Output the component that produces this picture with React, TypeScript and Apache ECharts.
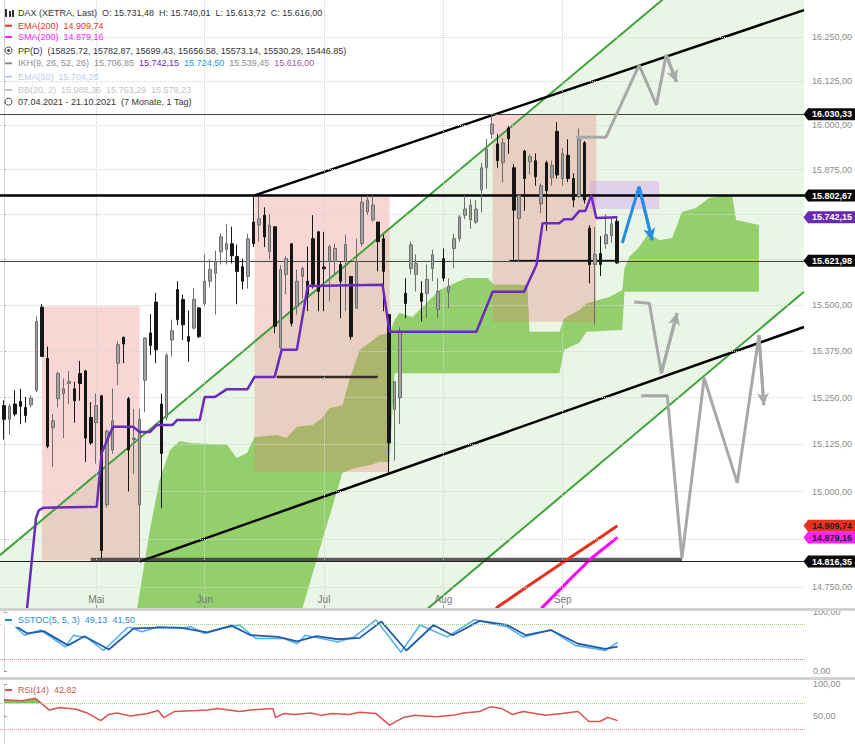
import React, { useEffect, useRef } from "react";
import * as echarts from "echarts";

// ---------- axis ranges ----------
const X_MIN = -0.737;
const X_MAX = 147.5;
const PRICE_MIN = 14695.6;
const PRICE_MAX = 16356.2;

const monthTicks = [17, 37, 59, 81, 103];
const monthNames = ["Mai", "Jun", "Jul", "Aug", "Sep"];
const priceTicks = [14750, 14875, 15000, 15125, 15250, 15375, 15500, 15625, 15750, 15875, 16000, 16125, 16250];
const priceLabels = [14750, 15000, 15125, 15250, 15375, 15500, 15875, 16000, 16125, 16250];
const sstocTicks = [0, 100];
const rsiTicks = [50, 100];

// ---------- candles (trading-day index 0..113) ----------
const candleOpen = [
  15229, 15192, 15233, 15240, 15224, 15231, 15270, 15495, 15356, 15170,
  15247, 15261, 15288, 15274, 15315, 15322, 15197, 15183, 15255, 14965,
  15110, 15343, 15413, 15247, 15138, 14965, 15297, 15425, 15509, 15233,
  15197, 15406, 15543, 15516, 15415, 15438, 15493, 15505, 15566, 15587,
  15647, 15653, 15669, 15634, 15606, 15579, 15729, 15721, 15748, 15647,
  15716, 15384, 15585, 15669, 15497, 15579, 15566, 15683, 15702, 15605,
  15620, 15620, 15612, 15620, 15579, 15492, 15669, 15757, 15735, 15729,
  15683, 15475, 15219, 15250, 15533, 15601, 15585, 15533, 15533, 15601,
  15489, 15628, 15538, 15656, 15683, 15748, 15735, 15729, 15819, 15880,
  15975, 15947, 15894, 15992, 15880, 15739, 15927, 15897, 15900, 15780,
  15894, 15853, 15982, 15850, 15915, 15850, 15800, 15950, 15712, 15612,
  15642, 15669, 15691, 15731,
];
const candleHigh = [
  15243, 15233, 15270, 15274, 15252, 15256, 15470, 15503, 15388, 15206,
  15320, 15302, 15322, 15293, 15349, 15325, 15238, 15261, 15258, 15165,
  15275, 15402, 15415, 15252, 15220, 15220, 15413, 15476, 15534, 15261,
  15370, 15461, 15566, 15529, 15486, 15547, 15495, 15640, 15626, 15650,
  15697, 15724, 15716, 15667, 15628, 15697, 15800, 15798, 15770, 15751,
  15718, 15610, 15634, 15670, 15598, 15606, 15661, 15748, 15704, 15702,
  15667, 15669, 15620, 15694, 15580, 15683, 15798, 15803, 15803, 15729,
  15694, 15476, 15293, 15440, 15574, 15675, 15640, 15566, 15612, 15653,
  15574, 15656, 15574, 15697, 15748, 15803, 15792, 15790, 15894, 15961,
  16030, 15975, 15964, 15997, 15890, 15808, 15930, 15918, 15920, 15836,
  15900, 15900, 16008, 15935, 15960, 15865, 15990, 15955, 15720, 15715,
  15690, 15751, 15740, 15740,
];
const candleLow = [
  15138, 15151, 15200, 15179, 15183, 15224, 15265, 15361, 15115, 15065,
  15224, 15142, 15233, 15183, 15242, 15079, 15124, 15074, 14825, 14958,
  15100, 15284, 15343, 15000, 15047, 14816, 15211, 15365, 15343, 14956,
  15190, 15361, 15447, 15406, 15347, 15434, 15411, 15497, 15549, 15475,
  15612, 15612, 15615, 15503, 15544, 15546, 15660, 15675, 15660, 15626,
  15424, 15380, 15530, 15443, 15475, 15519, 15484, 15546, 15484, 15484,
  15511, 15585, 15465, 15484, 15407, 15492, 15661, 15749, 15730, 15593,
  15484, 15047, 15082, 15180, 15465, 15585, 15538, 15456, 15465, 15566,
  15465, 15566, 15492, 15601, 15675, 15737, 15710, 15724, 15755, 15822,
  15961, 15880, 15839, 15919, 15625, 15620, 15760, 15862, 15830, 15754,
  15705, 15830, 15850, 15830, 15840, 15770, 15795, 15780, 15560, 15448,
  15580, 15655, 15672, 15614,
];
const candleClose = [
  15192, 15227, 15206, 15227, 15202, 15249, 15456, 15361, 15120, 15188,
  15315, 15274, 15294, 15242, 15288, 15142, 15129, 15229, 14845, 15160,
  15188, 15393, 15395, 15110, 15142, 15192, 15411, 15391, 15379, 15101,
  15365, 15431, 15461, 15447, 15402, 15516, 15415, 15566, 15598, 15620,
  15688, 15669, 15636, 15593, 15566, 15683, 15669, 15738, 15688, 15721,
  15443, 15598, 15628, 15451, 15566, 15601, 15530, 15557, 15538, 15600,
  15661, 15656, 15566, 15667, 15415, 15620, 15784, 15790, 15776, 15675,
  15593, 15129, 15293, 15430, 15505, 15666, 15615, 15511, 15571, 15639,
  15538, 15574, 15552, 15683, 15743, 15765, 15776, 15765, 15880, 15933,
  16003, 15900, 15950, 15961, 15762, 15803, 15850, 15911, 15855, 15830,
  15816, 15886, 15860, 15920, 15850, 15790, 15960, 15790, 15612, 15640,
  15612, 15694, 15724, 15616,
];

// ---------- Ichimoku ----------
const kijunLine = [
  [3.9, 14650], [4.4, 14716], [5.9, 14930], [6.4, 14950], [7.2, 14957], [17.1, 14960], [18, 15102],
  [20.1, 15172], [23.8, 15172], [25, 15158], [26.9, 15158], [28.2, 15177], [31.1, 15177], [31.9, 15190],
  [36.1, 15190], [37, 15252], [38.9, 15252], [41.1, 15273], [44.9, 15273], [46.2, 15306], [49.9, 15306],
  [51.2, 15379], [54, 15379], [56, 15553], [69.8, 15556], [71.1, 15428], [87.1, 15428], [90.1, 15537],
  [95.9, 15537], [98.2, 15611], [99.3, 15726], [102.4, 15726], [103.3, 15737], [104.8, 15737],
  [106.1, 15760], [107.2, 15760], [108.3, 15803], [109.2, 15740], [113.1, 15742],
];
const cloudUpper = [
  [24.5, 14690], [26.9, 14899], [28.7, 15031], [30.6, 15110], [32.4, 15134], [34.3, 15129], [37.9, 15126],
  [41.1, 15124], [42.9, 15089], [44.8, 15102], [46.2, 15145], [50.3, 15150], [52.1, 15142], [54, 15172],
  [56.9, 15177], [58.7, 15196], [60, 15222], [62.4, 15230], [63.7, 15298], [65.6, 15379], [67.4, 15398],
  [69.2, 15419], [71.1, 15425], [72, 15460], [72.9, 15479], [75.3, 15468], [80.3, 15542], [85.3, 15575],
  [89.1, 15575], [90.4, 15556], [96.5, 15556], [96.9, 15428], [102.4, 15428], [103.3, 15465], [106.1, 15487],
  [107.4, 15506], [111.6, 15523], [114, 15542], [114.4, 15600], [115.3, 15633], [117.1, 15660], [118.9, 15699],
  [120.8, 15679], [123.2, 15685], [125, 15757], [127.6, 15768], [130, 15796], [132.4, 15802], [134.3, 15799],
  [135, 15735], [139.2, 15721],
];
const cloudLower = [
  [24.5, 14600], [54.5, 14600], [55.1, 14698], [58.7, 14872], [62.4, 15049], [63.7, 15057], [65.6, 15065],
  [67.4, 15070], [69.2, 15078], [71.1, 15078], [72, 15316], [102.4, 15316], [103.3, 15379], [106.1, 15398],
  [107.4, 15428], [114, 15433], [114.4, 15537], [139.2, 15537],
];

// ---------- moving averages ----------
const ema200Line = [[90, 14680], [91, 14698], [96.9, 14755], [104.2, 14825], [109.8, 14878], [113.1, 14909.74]];
const sma200Line = [[98.5, 14680], [99.3, 14698], [104.2, 14768], [108.3, 14825], [113.1, 14879.16]];

// ---------- trend channels ----------
const greenUpperLine = [[-0.737, 14833], [130, 16470]];
const greenLowerLine = [[75, 14657], [147.5, 15537]];
const blackUpperLine = [[46.2, 15803], [147.5, 16327]];
const blackLowerLine = [[25, 14816], [147.5, 15441]];

const supportBand = [[16, 14821], [125, 14821]];
const kijunFlat = [[50.3, 15306], [68.9, 15306]];
const pivotBand = [[93.2, 15622], [113.1, 15622]];

// ---------- projections ----------
const projectionTop = [[105.5, 15966], [111, 15966], [117.1, 16170], [120.3, 16057], [122.1, 16199], [124, 16122]];
const projectionMid = [[116.2, 15509], [119, 15506], [121.2, 15316], [124.1, 15479]];
const projectionLow = [[117.5, 15255], [122.3, 15255], [125, 14825], [129.1, 15303], [135.2, 15023], [139.2, 15419], [140.1, 15230]];
const blueArrow = [[114, 15671], [117.1, 15827], [119.5, 15679]];

// ---------- zones [x1, x2, high, low] ----------
const pinkZones = [
  [7, 25, 15497, 14820],
  [46.2, 71.1, 15799, 15052],
  [90.1, 109.2, 16030, 15455],
];
const purpleZone = [108, 120.8, 15843, 15765];

// ---------- labelled levels ----------
const levelValues = [16030.33, 15802.67, 15621.98, 14816.35];
const tagValues = [15742.15, 14909.74, 14879.16];

// ---------- oscillators ----------
const sstocK = [
  [0, 92.5], [3.8, 60.7], [6.8, 69.4], [11.3, 40.5], [12.8, 60.7], [15.3, 56], [18.3, 34.7], [22.9, 75.1],
  [25.4, 66.5], [28.4, 75.1], [32.4, 72.3], [34.4, 75.1], [36.9, 63.6], [40.4, 72.3], [43.4, 78], [46.4, 54.9],
  [51.5, 54.9], [54, 46.2], [55.5, 60.7], [58.5, 54.9], [61.5, 49.1], [64.5, 57.8], [68.5, 86.7], [73.1, 31.8],
  [76.6, 78], [81.6, 57.8], [86.6, 86.7], [92.6, 75.1], [95.6, 57.8], [100.7, 69.4], [105.2, 43.4], [110.7, 34.7],
  [113, 49.13],
];
const sstocD = [
  [0, 88.4], [0.8, 83.8], [4.3, 63.6], [7.3, 67.6], [11.8, 43.4], [14.8, 59], [19.3, 36.4], [23.9, 72.3],
  [28.4, 73.4], [32.4, 73.4], [37.4, 65.3], [41.9, 76.9], [45.4, 60.7], [50.5, 57.8], [54, 50.3], [57.5, 59],
  [61.5, 53.8], [65.5, 56.1], [69.5, 83.8], [74.1, 34.7], [79.1, 78], [82.6, 60.7], [87.6, 85], [92.6, 78],
  [96.1, 60.7], [100.7, 69.4], [105.7, 46.2], [110.7, 37.6], [113, 41.5],
];
const rsiLine = [
  [0, 75.2], [3.3, 73.8], [5.8, 77.6], [8.3, 59.5], [10.3, 63.3], [13.3, 60.5], [15.3, 54.8], [17.8, 42.9],
  [19.3, 52.4], [20.8, 54.8], [23.3, 50], [26.4, 53.8], [28.4, 58.6], [29.4, 47.6], [31.4, 57.1], [35.4, 58.6],
  [37.4, 59.5], [39.4, 61.9], [43.4, 57.1], [45.4, 59.5], [49.5, 61.9], [50, 47.6], [51.5, 53.8], [53.5, 52.4],
  [56.5, 54.8], [58.5, 51], [60.5, 53.8], [63.5, 52.4], [65.5, 55.7], [68.5, 53.8], [71, 35.7], [73.5, 47.6],
  [75.6, 51], [79.6, 49], [82.6, 51], [84.6, 54.8], [87.6, 57.1], [89.6, 64.3], [91.6, 61.9], [93.6, 52.4],
  [95.6, 57.1], [99.7, 51], [102.7, 53.8], [105.7, 57.1], [107.7, 41.4], [109.7, 41.4], [111.2, 47.6], [113, 42.82],
];
const rsiHot = [[0, 75.2], [3.3, 73.8], [5.8, 77.6], [6.9, 70]];

// ---------- helpers ----------
const FONT = '"Liberation Sans", Arial, sans-serif';
const LN = Math.log;
const logPts = (pts: number[][]) => pts.map((p) => [p[0], LN(p[1])]);

function fmtDe(v: number): string {
  const s = v.toFixed(2);
  const [int, dec] = s.split(".");
  return int.replace(/\B(?=(\d{3})+(?!\d))/g, ".") + "," + dec;
}

function polySeries(
  name: string,
  polys: () => number[][][],
  fills: string[],
  z: number,
  xIdx = 0,
  yIdx = 0,
  yLog = true
): any {
  return {
    name,
    type: "custom",
    xAxisIndex: xIdx,
    yAxisIndex: yIdx,
    z,
    silent: true,
    clip: true,
    data: [[0, yLog ? LN(15500) : 50]],
    renderItem: (_p: any, api: any) => {
      const children = polys().map((poly, k) => ({
        type: "polygon",
        shape: { points: poly.map((p) => api.coord([p[0], yLog ? LN(p[1]) : p[1]])) },
        style: { fill: fills[k % fills.length] },
      }));
      return { type: "group", children };
    },
  };
}

function rectPoly(z: number[]): number[][] {
  return [
    [z[0], z[2]],
    [z[1], z[2]],
    [z[1], z[3]],
    [z[0], z[3]],
  ];
}

function lineSeries(name: string, pts: number[][], color: string, width: number, z: number, extra: any = {}): any {
  return {
    name,
    type: "line",
    xAxisIndex: 0,
    yAxisIndex: 0,
    z,
    silent: true,
    symbol: "none",
    data: logPts(pts),
    lineStyle: { color, width },
    ...extra,
  };
}

function arrowSeries(name: string, pts: number[][], color: string): any {
  const a = pts[pts.length - 2];
  const b = pts[pts.length - 1];
  return lineSeries(name, pts, color, 3, 7, {
    markLine: {
      silent: true,
      precision: 10,
      symbol: ["none", "arrow"],
      symbolSize: [9, 12],
      label: { show: false },
      lineStyle: { color, width: 3, type: "solid" },
      data: [[{ coord: [a[0], LN(a[1])] }, { coord: [b[0], LN(b[1])] }]],
    },
  });
}

const hLine = (v: number, extra: any = {}) => [
  { coord: [X_MIN, LN(v)], ...extra },
  { coord: [X_MAX, LN(v)] },
];

function buildOption(): any {
  const hiddenX = (gridIndex: number) => ({
    type: "value",
    gridIndex,
    min: X_MIN,
    max: X_MAX,
    axisLine: { show: false },
    axisTick: { show: false },
    axisLabel: { show: false },
    splitLine: { show: false },
  });

  const levelStyles = [
    { color: "#444", width: 1 },
    { color: "#000", width: 2.5 },
    { color: "#444", width: 1 },
    { color: "#222", width: 1 },
  ];
  const tagStyles = [
    { bg: "#6a2ab0", fg: "#fff" },
    { bg: "#e8321e", fg: "#222" },
    { bg: "#ff22ff", fg: "#222" },
  ];
  const tagLabel = (bg: string, fg: string, text: string) => ({
    show: true,
    position: "end",
    distance: 4,
    formatter: text,
    backgroundColor: bg,
    color: fg,
    padding: [2, 3, 1, 4],
    fontSize: 9,
    fontWeight: "bold",
    fontFamily: FONT,
  });

  const series: any[] = [];

  // pale green channel between the green trend lines
  series.push(
    polySeries(
      "channel",
      () => [
        [
          greenUpperLine[0],
          greenUpperLine[1],
          [X_MAX + 5, 16700],
          [X_MAX + 5, greenLowerLine[1][1]],
          greenLowerLine[1],
          greenLowerLine[0],
          [X_MIN - 5, 14500],
        ],
      ],
      ["#e9f5e5"],
      1
    )
  );

  // dotted grid lines
  series.push({
    name: "grid",
    type: "line",
    xAxisIndex: 0,
    yAxisIndex: 0,
    z: 1,
    silent: true,
    data: [],
    markLine: {
      silent: true,
      precision: 10,
      symbol: ["none", "none"],
      label: { show: false },
      lineStyle: { color: "#d4d4d4", width: 1, type: "dotted" },
      data: [
        ...priceTicks.map((v) => hLine(v)),
        ...monthTicks.map((m) => ({ xAxis: m })),
      ],
    },
  });

  // Ichimoku cloud
  series.push(polySeries("cloud", () => [[...cloudUpper, ...cloudLower.slice().reverse()]], ["#93d06c"], 2));

  // zones
  series.push(
    polySeries(
      "zones",
      () => [...pinkZones.map(rectPoly), rectPoly(purpleZone)],
      ["rgba(232,120,108,0.30)", "rgba(232,120,108,0.30)", "rgba(232,120,108,0.30)", "rgba(205,150,238,0.38)"],
      3
    )
  );

  // trend lines
  series.push(lineSeries("greenUpper", greenUpperLine, "#3ea33a", 2, 4));
  series.push(lineSeries("greenLower", greenLowerLine, "#3ea33a", 2, 4));
  series.push(lineSeries("blackUpper", blackUpperLine, "#000", 2.5, 4));
  series.push(lineSeries("blackLower", blackLowerLine, "#000", 2.5, 4));
  series.push(lineSeries("supportBand", supportBand, "rgba(40,40,40,0.75)", 4, 4));
  series.push(lineSeries("kijunFlat", kijunFlat, "#3a2a26", 2.5, 4));
  series.push(lineSeries("pivotBand", pivotBand, "#111", 2, 4));

  // moving averages
  series.push(lineSeries("EMA(200)", ema200Line, "#e8321e", 3, 4));
  series.push(lineSeries("SMA(200)", sma200Line, "#ff00ff", 3, 4));

  // candles
  series.push({
    name: "DAX",
    type: "candlestick",
    xAxisIndex: 0,
    yAxisIndex: 0,
    z: 5,
    silent: true,
    barWidth: 3,
    dimensions: ["idx", "open", "close", "low", "high"],
    encode: { x: "idx", y: ["open", "close", "low", "high"] },
    data: candleOpen.map((o, i) => [i, LN(o), LN(candleClose[i]), LN(candleLow[i]), LN(candleHigh[i])]),
    itemStyle: {
      color: "#a3a3a3",
      color0: "#161616",
      borderColor: "#6e6e6e",
      borderColor0: "#161616",
      borderWidth: 1,
    },
  });

  // Kijun line
  series.push(lineSeries("Kijun", kijunLine, "#6a2bbd", 2.5, 6));

  // projections
  series.push(arrowSeries("projTop", projectionTop, "#a8a8a8"));
  series.push(arrowSeries("projMid", projectionMid, "#a8a8a8"));
  series.push(arrowSeries("projLow", projectionLow, "#a8a8a8"));
  series.push(arrowSeries("blue", blueArrow, "#2a8be2"));

  // levels + tags
  const tagColors = [...levelValues.map(() => "#0a0a0a"), ...tagStyles.map((t) => t.bg)];
  series.push({
    name: "levels",
    type: "line",
    xAxisIndex: 0,
    yAxisIndex: 0,
    z: 8,
    silent: true,
    data: [],
    markLine: {
      silent: true,
      precision: 10,
      symbol: ["none", "none"],
      data: [
        ...levelValues.map((v, k) =>
          hLine(v, {
            lineStyle: { color: levelStyles[k].color, width: levelStyles[k].width, type: "solid" },
            label: tagLabel("#0a0a0a", "#fff", fmtDe(v)),
          })
        ),
        ...tagValues.map((v, k) =>
          hLine(v, {
            lineStyle: { color: "rgba(0,0,0,0)", width: 0, type: "solid" },
            label: tagLabel(tagStyles[k].bg, tagStyles[k].fg, fmtDe(v)),
          })
        ),
      ],
    },
    markPoint: {
      silent: true,
      precision: 10,
      symbol: "triangle",
      symbolSize: [13, 5],
      symbolRotate: 90,
      symbolOffset: [2, 0],
      label: { show: false },
      data: [...levelValues, ...tagValues].map((v, k) => ({
        coord: [X_MAX, LN(v)],
        itemStyle: { color: tagColors[k] },
      })),
    },
  });

  // SSTOC
  series.push({
    name: "SSTOC K",
    type: "line",
    xAxisIndex: 1,
    yAxisIndex: 1,
    symbol: "none",
    silent: true,
    data: sstocK,
    lineStyle: { color: "#4db0e6", width: 1.5 },
    markLine: {
      silent: true,
      symbol: ["none", "none"],
      label: { show: false },
      data: [
        { yAxis: 80, lineStyle: { color: "#9fd27f", type: "dotted", width: 1 } },
        { yAxis: 20, lineStyle: { color: "#f08a8a", type: "dotted", width: 1 } },
      ],
    },
  });
  series.push({
    name: "SSTOC D",
    type: "line",
    xAxisIndex: 1,
    yAxisIndex: 1,
    symbol: "none",
    silent: true,
    data: sstocD,
    lineStyle: { color: "#1f5cb0", width: 1.8 },
  });

  // RSI
  series.push(polySeries("rsiHot", () => [[...rsiHot, [rsiHot[0][0], 70]]], ["#7cc35a"], 2, 2, 2, false));
  series.push({
    name: "RSI",
    type: "line",
    xAxisIndex: 2,
    yAxisIndex: 2,
    symbol: "none",
    silent: true,
    z: 3,
    data: rsiLine,
    lineStyle: { color: "#d9534f", width: 1.5 },
    markLine: {
      silent: true,
      symbol: ["none", "none"],
      label: { show: false },
      data: [
        { yAxis: 70, lineStyle: { color: "#9fd27f", type: "dotted", width: 1 } },
        { yAxis: 30, lineStyle: { color: "#f08a8a", type: "dotted", width: 1 } },
      ],
    },
  });

  const rightAxis = (
    gridIndex: number,
    min: number,
    max: number,
    ticks: number[],
    labels: number[],
    fmt: (v: number) => string
  ) => ({
    type: "value",
    gridIndex,
    position: "right",
    min,
    max,
    axisLine: { show: true, lineStyle: { color: "#c8c8c8", type: "dotted" } },
    axisTick: { show: true, customValues: ticks, length: 3, lineStyle: { color: "#999" } },
    axisLabel: { show: true, customValues: labels, formatter: fmt, color: "#8a8a8a", fontSize: 9, fontFamily: FONT, margin: 8 },
    splitLine: { show: false },
  });

  const txt = (x: number, y: number, text: string, fill: string) => ({
    type: "text",
    x,
    y,
    silent: true,
    z: 100,
    style: { text, fill, fontSize: 9, fontFamily: FONT, verticalAlign: "middle", align: "left" },
  });
  const dash = (y: number, fill: string) => ({
    type: "rect",
    silent: true,
    z: 100,
    shape: { x: 5, y: y - 1, width: 7, height: 2 },
    style: { fill },
  });
  const rs = (fill: string) => ({ fill, fontSize: 9, fontFamily: FONT });

  const graphic: any[] = [
    { type: "rect", silent: true, z: 90, shape: { x: 0, y: 608, width: 855, height: 3 }, style: { fill: "#d2d2d2" } },
    { type: "rect", silent: true, z: 90, shape: { x: 0, y: 677, width: 855, height: 3 }, style: { fill: "#d2d2d2" } },
    // legend
    { type: "rect", silent: true, z: 100, shape: { x: 5, y: 9, width: 2, height: 8 }, style: { fill: "#333" } },
    { type: "rect", silent: true, z: 100, shape: { x: 9, y: 11, width: 2, height: 6 }, style: { fill: "#333" } },
    { type: "rect", silent: true, z: 100, shape: { x: 12, y: 10, width: 2, height: 7 }, style: { fill: "#333" } },
    txt(18, 13.3, "DAX (XETRA, Last)  O: 15.731,48  H: 15.740,01  L: 15.613,72  C: 15.616,00", "#333"),
    dash(25.7, "#e8321e"),
    txt(18, 25.7, "EMA(200)  14.909,74", "#e8321e"),
    dash(37, "#ff22ff"),
    txt(18, 37, "SMA(200)  14.879,16", "#ff22ff"),
    { type: "circle", silent: true, z: 100, shape: { cx: 8.5, cy: 50.5, r: 3.5 }, style: { fill: "#fff", stroke: "#444", lineWidth: 1 } },
    { type: "circle", silent: true, z: 100, shape: { cx: 8.5, cy: 50.5, r: 1.5 }, style: { fill: "#444" } },
    txt(18, 50.5, "PP(D)  (15825.72, 15782.87, 15699.43, 15656.58, 15573.14, 15530.29, 15446.85)", "#333"),
    dash(63.3, "#8c8c8c"),
    {
      type: "text",
      x: 18,
      y: 63.3,
      silent: true,
      z: 100,
      style: {
        text: "{a|IKH(9, 26, 52, 26)  15.706,85  }{b|15.742,15  }{c|15.724,50  }{a|15.539,45  }{d|15.616,00}",
        rich: { a: rs("#8c8c8c"), b: rs("#6a2aa8"), c: rs("#1a9cd8"), d: rs("#9a5aa0") },
        fontSize: 9,
        fontFamily: FONT,
        verticalAlign: "middle",
        align: "left",
      },
    },
    dash(76.7, "#b9cfea"),
    txt(18, 76.7, "EMA(50)  15.704,25", "#b9cfea"),
    dash(90, "#c4c4c4"),
    txt(18, 90, "BB(20, 2)  15.988,36  15.763,29  15.578,23", "#c4c4c4"),
    { type: "circle", silent: true, z: 100, shape: { cx: 8.5, cy: 101.7, r: 3.5 }, style: { fill: "#fff", stroke: "#444", lineWidth: 1 } },
    txt(18, 101.7, "07.04.2021 - 21.10.2021  (7 Monate, 1 Tag)", "#333"),
    // oscillator legends
    { type: "rect", silent: true, z: 99, shape: { x: 2, y: 613, width: 132, height: 14 }, style: { fill: "rgba(255,255,255,0.9)" } },
    dash(620, "#2a8ad0"),
    txt(18, 620, "SSTOC(5, 5, 3)  49,13  41,50", "#2a8ad0"),
    dash(690, "#d9534f"),
    txt(18, 690, "RSI(14)  42,82", "#d9534f"),
  ];

  return {
    animation: false,
    backgroundColor: "#ffffff",
    grid: [
      { left: 0, right: 50, top: 0, height: 608 },
      { left: 0, right: 50, top: 612, height: 59 },
      { left: 0, right: 50, top: 684, height: 60 },
    ],
    xAxis: [
      {
        ...hiddenX(0),
        z: 50,
        axisLabel: {
          show: true,
          inside: true,
          customValues: monthTicks,
          formatter: (v: number) => monthNames[monthTicks.indexOf(Math.round(v))] || "",
          color: "#777",
          fontSize: 10,
          fontFamily: FONT,
          margin: 4,
        },
        axisTick: { show: true, inside: true, customValues: monthTicks, length: 3, lineStyle: { color: "#999" } },
      },
      hiddenX(1),
      hiddenX(2),
    ],
    yAxis: [
      rightAxis(0, LN(PRICE_MIN), LN(PRICE_MAX), priceTicks.map(LN), priceLabels.map(LN), (v: number) =>
        fmtDe(Math.round(Math.exp(v) * 100) / 100)
      ),
      rightAxis(1, 0, 100, sstocTicks, sstocTicks, (v: number) => fmtDe(v)),
      rightAxis(2, 6.25, 100, rsiTicks, rsiTicks, (v: number) => fmtDe(v)),
    ],
    graphic,
    series,
  };
}

export default function App() {
  const ref = useRef<HTMLDivElement>(null);
  useEffect(() => {
    if (!ref.current) return;
    const chart = echarts.init(ref.current, undefined, { renderer: "svg" });
    chart.setOption(buildOption());
    return () => chart.dispose();
  }, []);
  return (
    <div
      ref={ref}
      style={{ position: "fixed", left: 0, top: 0, width: 855, height: 744, background: "#fff" }}
    />
  );
}
